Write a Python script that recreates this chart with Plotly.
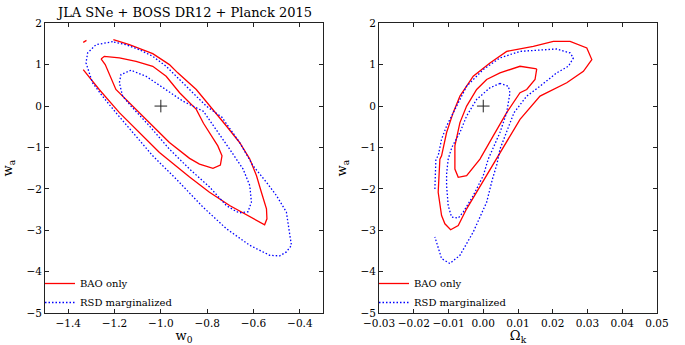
import plotly.graph_objects as go

# ---------------- data ----------------
# Left panel: w0 vs wa
L_red_outer_x = [-1.335, -1.266, -1.179, -1.093, -1.006, -0.876, -0.790, -0.703, -0.616, -0.552,
                 -0.542, -0.544, -0.566, -0.587, -0.616, -0.660, -0.717, -0.775, -0.847, -0.927,
                 -0.963, -1.035, -1.136, -1.205, None, -1.335, -1.321]
L_red_outer_y = [0.882, 0.401, -0.159, -0.639, -1.120, -1.714, -2.082, -2.404, -2.683, -2.868,
                 -2.724, -2.483, -2.082, -1.683, -1.281, -0.880, -0.481, -0.079, 0.401, 0.803,
                 1.002, 1.267, 1.483, 1.603, None, 1.538, 1.587]

L_red_inner_x = [-1.258, -1.244, -1.179, -1.107, -1.035, -0.977, -0.919, -0.847, -0.816, -0.784,
                 -0.754, -0.736, -0.743, -0.775, -0.833, -0.876, -0.963, -1.035, -1.107, -1.158,
                 -1.194, -1.240, -1.258]
L_red_inner_y = [1.139, 1.202, 1.163, 1.082, 0.962, 0.721, 0.322, -0.079, -0.416, -0.704,
                 -0.962, -1.202, -1.425, -1.505, -1.401, -1.264, -0.880, -0.481, -0.079, 0.202,
                 0.401, 1.002, 1.139]

L_blue_outer_x = [-1.208, -1.280, -1.316, -1.323, -1.295, -1.252, -1.194, -1.107, -1.035, -0.934,
                  -0.819, -0.717, -0.616, -0.530, -0.487, -0.458, -0.436, -0.443, -0.458, -0.501,
                  -0.544, -0.602, -0.660, -0.736, -0.804, -0.862, -0.919, -0.977, -1.035, -1.093,
                  -1.150, -1.208]
L_blue_outer_y = [1.555, 1.483, 1.284, 1.043, 0.563, 0.240, -0.159, -0.721, -1.202, -1.762,
                  -2.435, -2.964, -3.365, -3.606, -3.620, -3.524, -3.365, -3.125, -2.562, -2.163,
                  -1.841, -1.442, -0.880, -0.272, 0.000, 0.322, 0.642, 0.962, 1.202, 1.363,
                  1.483, 1.555]

L_blue_inner_x = [-1.129, -1.172, -1.179, -1.165, -1.129, -1.049, -0.963, -0.876, -0.790, -0.717,
                  -0.674, -0.660, -0.624, -0.609, -0.616, -0.645, -0.703, -0.761, -0.816, -0.905,
                  -0.977, -1.064, -1.129]
L_blue_inner_y = [0.865, 0.762, 0.563, 0.240, 0.000, -0.481, -1.041, -1.522, -1.954, -2.404,
                  -2.548, -2.579, -2.555, -2.322, -1.923, -1.522, -1.041, -0.560, -0.127, 0.120,
                  0.401, 0.721, 0.865]

# Right panel: Omega_k vs wa
R_red_outer_x = [-0.01248, -0.01297, -0.01199, -0.01104, -0.00939, -0.00720, -0.00478, -0.00190,
                 0.00098, 0.00386, 0.00674, 0.01058, 0.01634, 0.01922, 0.02403, 0.02882, 0.03124,
                 0.02980, 0.02499, 0.02017, 0.01441, 0.00674, 0.00193, -0.00288, -0.00671,
                 -0.00865, -0.01055, -0.01199, -0.01248]
R_red_outer_y = [-1.281, -2.082, -2.644, -2.844, -2.988, -2.885, -2.483, -2.082,
                 -1.683, -1.281, -0.880, -0.320, 0.240, 0.361, 0.563, 0.841, 1.123,
                 1.404, 1.563, 1.563, 1.442, 1.322, 1.043, 0.721, 0.240,
                 -0.159, -0.639, -1.202, -1.281]

R_red_inner_x = [0.01539, 0.01058, 0.00481, 0.00098, -0.00190, -0.00478, -0.00671, -0.00816,
                 -0.00816, -0.00720, -0.00478, -0.00095, 0.00288, 0.00674, 0.01058, 0.01251,
                 0.01490, 0.01539]
R_red_inner_y = [0.899, 0.962, 0.803, 0.642, 0.401, 0.000, -0.399, -0.962,
                 -1.522, -1.721, -1.683, -1.281, -0.721, -0.159, 0.322, 0.401,
                 0.642, 0.899]

R_blue_outer_x = [-0.01392, -0.01363, -0.01297, -0.01199, -0.01055, -0.00767, -0.00478, 0.00000,
                  0.00481, 0.01058, 0.01634, 0.02115, 0.02499, 0.02594, 0.02450, 0.02115, 0.01634,
                  0.01251, 0.00885, 0.00654, 0.00481, 0.00395, 0.00265, 0.00098, -0.00288,
                  -0.00671, -0.00960, -0.01199, -0.01392]
R_blue_outer_y = [-2.002, -1.281, -1.202, -0.800, -0.481, 0.000, 0.481, 0.882,
                  1.163, 1.322, 1.363, 1.380, 1.284, 1.163, 0.962, 0.803, 0.481,
                  0.240, -0.159, -0.639, -1.041, -1.401, -1.762, -2.322, -3.043,
                  -3.606, -3.805, -3.685, -3.163]

R_blue_inner_x = [0.00481, 0.00193, -0.00190, -0.00478, -0.00671, -0.00902, -0.01009, -0.01055,
                  -0.01055, -0.01009, -0.00911, -0.00720, -0.00576, -0.00288, 0.00000, 0.00144,
                  0.00481, 0.00674, 0.00769, 0.00720, 0.00481]
R_blue_inner_y = [0.546, 0.442, 0.161, -0.240, -0.639, -0.993, -1.281, -1.642,
                  -1.923, -2.404, -2.683, -2.707, -2.562, -2.163, -1.683, -1.281,
                  -0.639, -0.159, 0.322, 0.481, 0.546]

fiducial_left = ([-1.0], [0.0])
fiducial_right = ([0.0], [0.0])

left_xticks = [-1.4, -1.2, -1.0, -0.8, -0.6, -0.4]
right_xticks = [-0.03, -0.02, -0.01, 0.00, 0.01, 0.02, 0.03, 0.04, 0.05]
yticks = [-5, -4, -3, -2, -1, 0, 1, 2]

# ---------------- styling ----------------
FONT = "DejaVu Serif"
RED = "#ff0000"
BLUE = "#0000ff"
W, H = 685, 345

fig = go.Figure()


def add(x, y, color, dash, name, xa, ya, legend, show):
    fig.add_trace(go.Scatter(
        x=x, y=y, mode="lines", name=name,
        line=dict(color=color, width=1.3, dash=dash),
        xaxis=xa, yaxis=ya, legend=legend, showlegend=show,
        legendgroup=name + legend, hoverinfo="skip", connectgaps=False))


DOT = "1.5px,2px"
add(L_red_outer_x, L_red_outer_y, RED, "solid", "BAO only", "x", "y", "legend", True)
add(L_red_inner_x, L_red_inner_y, RED, "solid", "BAO only", "x", "y", "legend", False)
add(L_blue_outer_x, L_blue_outer_y, BLUE, DOT, "RSD marginalized", "x", "y", "legend", True)
add(L_blue_inner_x, L_blue_inner_y, BLUE, DOT, "RSD marginalized", "x", "y", "legend", False)

add(R_red_outer_x, R_red_outer_y, RED, "solid", "BAO only", "x2", "y2", "legend2", True)
add(R_red_inner_x, R_red_inner_y, RED, "solid", "BAO only", "x2", "y2", "legend2", False)
add(R_blue_outer_x, R_blue_outer_y, BLUE, DOT, "RSD marginalized", "x2", "y2", "legend2", True)
add(R_blue_inner_x, R_blue_inner_y, BLUE, DOT, "RSD marginalized", "x2", "y2", "legend2", False)

for (fx, fy), xa, ya in [(fiducial_left, "x", "y"), (fiducial_right, "x2", "y2")]:
    fig.add_trace(go.Scatter(
        x=fx, y=fy, mode="markers", xaxis=xa, yaxis=ya, showlegend=False,
        marker=dict(symbol="cross-thin", size=9, line=dict(color="#222222", width=1)),
        hoverinfo="skip"))

axis_common = dict(
    showline=True, linecolor="#222222", linewidth=1, mirror="allticks",
    ticks="inside", ticklen=4, tickcolor="#222222", tickwidth=1,
    showgrid=False, zeroline=False, automargin=False, tickangle=0,
    tickfont=dict(family=FONT, size=10.5, color="#000000"),
)

ydom = [(H - 313) / H, (H - 23.3) / H]

fig.update_layout(
    width=W, height=H,
    margin=dict(l=0, r=0, t=0, b=0, autoexpand=False),
    paper_bgcolor="white", plot_bgcolor="white",
    font=dict(family=FONT, color="#000000"),
    xaxis=dict(domain=[45 / W, 323 / W], range=[-1.5, -0.3], tickvals=left_xticks,
               tickformat=".1f", anchor="y",
               title=dict(text="w<sub>0</sub>", font=dict(family=FONT, size=13), standoff=6),
               **axis_common),
    yaxis=dict(domain=ydom, range=[-5, 2], tickvals=yticks, anchor="x",
               title=dict(text="w<sub>a</sub>", font=dict(family=FONT, size=13), standoff=10),
               **axis_common),
    xaxis2=dict(domain=[379 / W, 657 / W], range=[-0.03, 0.05], tickvals=right_xticks,
                tickformat=".2f", anchor="y2",
                title=dict(text="Ω<sub>k</sub>", font=dict(family=FONT, size=13), standoff=6),
                **axis_common),
    yaxis2=dict(domain=ydom, range=[-5, 2], tickvals=yticks, anchor="x2",
                title=dict(text="w<sub>a</sub>", font=dict(family=FONT, size=13), standoff=10),
                **axis_common),
    legend=dict(x=40 / W, y=(H - 269) / H, xanchor="left", yanchor="top",
                bgcolor="rgba(0,0,0,0)", font=dict(family=FONT, size=10),
                itemwidth=30, tracegroupgap=0),
    legend2=dict(x=374 / W, y=(H - 269) / H, xanchor="left", yanchor="top",
                 bgcolor="rgba(0,0,0,0)", font=dict(family=FONT, size=10),
                 itemwidth=30, tracegroupgap=0),
    annotations=[dict(text="JLA SNe + BOSS DR12 + Planck 2015", xref="paper", yref="paper",
                      x=184 / W, y=(H - 13) / H, xanchor="center", yanchor="middle",
                      showarrow=False, font=dict(family=FONT, size=13, color="#000000"))],
)

fig.write_html("out.html")
